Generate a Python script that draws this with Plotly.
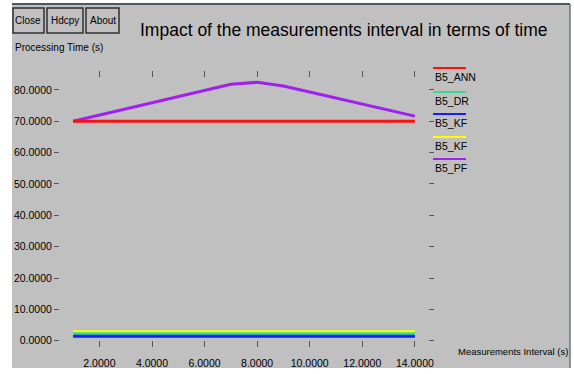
import plotly.graph_objects as go

# ---------------- data ----------------
interval = [1, 2, 3, 4, 5, 6, 7, 8, 9, 10, 11, 12, 13, 14]
b5_ann = [70.0] * 14
b5_dr = [2.2] * 14
b5_kf_blue = [1.4] * 14
b5_kf_yellow = [2.9] * 14
b5_pf = [70.0, 72.0, 73.9, 75.9, 77.9, 79.8, 81.8, 82.4, 81.2, 79.3, 77.4, 75.5, 73.5, 71.6]

series_names = ["B5_ANN", "B5_DR", "B5_KF", "B5_KF", "B5_PF"]
series_colors = ["#ff1010", "#30e090", "#1a1aff", "#ffff00", "#a020f0"]
series_values = [b5_ann, b5_dr, b5_kf_blue, b5_kf_yellow, b5_pf]

x_ticks = [2, 4, 6, 8, 10, 12, 14]
y_ticks = [0, 10, 20, 30, 40, 50, 60, 70, 80]

title_text = "Impact of the measurements interval in terms of time"
y_title = "Processing Time (s)"
x_title = "Measurements Interval (s)"
buttons = ["Close", "Hdcpy", "About"]

# ---------------- layout constants ----------------
W, H = 574, 374
ML, MR, MT, MB = 60, 146, 71, 27
PW, PH = W - ML - MR, H - MT - MB
BG = "#c0c0c0"
FONT = "Liberation Sans, Arial, sans-serif"


def px(x):
    return (x - ML) / PW


def py(y):
    return (H - MB - y) / PH


fig = go.Figure()
draw_order = [4, 0, 3, 1, 2]
for i in draw_order:
    fig.add_trace(go.Scatter(
        x=interval, y=series_values[i], mode="lines",
        line=dict(color=series_colors[i], width=3),
        name=series_names[i], showlegend=False,
    ))

shapes = [
    dict(type="rect", xref="paper", yref="paper", layer="below",
         x0=px(12), x1=px(570), y0=py(368), y1=py(4),
         fillcolor=BG, line=dict(width=0)),
    dict(type="line", xref="paper", yref="paper",
         x0=px(12), x1=px(570), y0=py(4), y1=py(4),
         line=dict(color="#4a5868", width=2)),
    dict(type="line", xref="paper", yref="paper",
         x0=px(570), x1=px(570), y0=py(4), y1=py(368),
         line=dict(color="#6a7480", width=1.5)),
]

annotations = [
    dict(text=title_text, xref="paper", yref="paper", x=px(344), y=py(30),
         xanchor="center", yanchor="middle", showarrow=False,
         font=dict(family=FONT, size=17.5, color="#000")),
    dict(text=y_title, xref="paper", yref="paper", x=px(13), y=py(47),
         xanchor="left", yanchor="middle", showarrow=False,
         font=dict(family=FONT, size=10, color="#000")),
    dict(text=x_title, xref="paper", yref="paper", x=px(456), y=py(351),
         xanchor="left", yanchor="middle", showarrow=False,
         font=dict(family=FONT, size=9.5, color="#000")),
]

# buttons
btn_left = [13, 47, 86]
btn_right = [44, 83, 119]
for label, l, r in zip(buttons, btn_left, btn_right):
    shapes.append(dict(type="rect", xref="paper", yref="paper",
                       x0=px(l), x1=px(r), y0=py(33), y1=py(8),
                       fillcolor=BG, line=dict(color="#303030", width=1.5)))
    annotations.append(dict(text=label, xref="paper", yref="paper",
                            x=px((l + r) / 2), y=py(20.5),
                            xanchor="center", yanchor="middle", showarrow=False,
                            font=dict(family=FONT, size=10, color="#000")))

# legend (line above label)
leg_line_y = [68, 92, 114, 137, 159]
for name, col, ly in zip(series_names, series_colors, leg_line_y):
    shapes.append(dict(type="line", xref="paper", yref="paper",
                       x0=px(433), x1=px(466), y0=py(ly), y1=py(ly),
                       line=dict(color=col, width=2)))
    annotations.append(dict(text=name, xref="paper", yref="paper",
                            x=px(433), y=py(ly + 9), xanchor="left", yanchor="middle",
                            showarrow=False,
                            font=dict(family=FONT, size=10.5, color="#000")))

fig.update_layout(
    width=W, height=H,
    margin=dict(l=ML, r=MR, t=MT, b=MB, pad=0),
    paper_bgcolor="white", plot_bgcolor=BG,
    font=dict(family=FONT, size=10, color="#000"),
    shapes=shapes, annotations=annotations,
    showlegend=False,
)
fig.update_xaxes(
    range=[0.5, 14.5], tickvals=x_ticks, tickformat=".4f",
    showgrid=False, zeroline=False, showline=False, automargin=False,
    ticks="inside", ticklen=6, tickwidth=1, tickcolor="#555555",
    mirror="ticks", ticklabelstandoff=8,
    tickfont=dict(family=FONT, size=10.5, color="#000"),
)
fig.update_yaxes(
    range=[-2, 86], tickvals=y_ticks, tickformat=".4f",
    showgrid=False, zeroline=False, showline=False, automargin=False,
    ticks="outside", ticklen=5, tickwidth=1, tickcolor="#555555",
    mirror="ticks",
    tickfont=dict(family=FONT, size=10.5, color="#000"),
)

fig.write_html("out.html")
